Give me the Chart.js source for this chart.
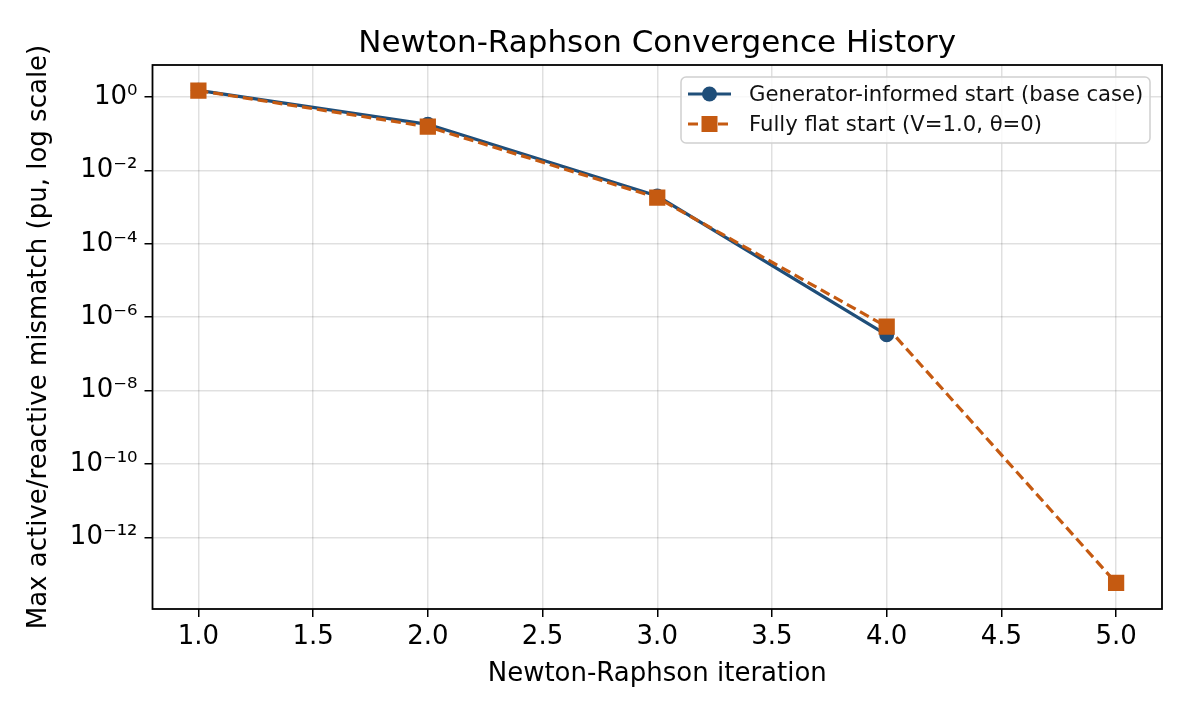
<!DOCTYPE html>
<html>
<head>
<meta charset="utf-8">
<script src="https://cdn.jsdelivr.net/npm/chart.js@4.4.1/dist/chart.umd.min.js"></script>
<style>
  html, body { margin: 0; padding: 0; background: #fff; }
  #wrap { width: 1190px; height: 714px; position: relative; }
</style>
</head>
<body>
<div id="wrap"><canvas id="c" width="1190" height="714"></canvas></div>
<script>
// data
const iterations = [1, 2, 3, 4, 5]
const genInformed = [1.52, 0.18, 2.0e-3, 3.3e-7]
const flatStart = [1.5, 0.155, 1.8e-3, 5.5e-7, 5.7e-14]
const seriesNames = ["Generator-informed start (base case)", "Fully flat start (V=1.0, θ=0)"]
const xTicks = [1.0, 1.5, 2.0, 2.5, 3.0, 3.5, 4.0, 4.5, 5.0]
const yTicks = [1e0, 1e-2, 1e-4, 1e-6, 1e-8, 1e-10, 1e-12]
const yTickLabels = ["10⁰", "10⁻²", "10⁻⁴", "10⁻⁶", "10⁻⁸", "10⁻¹⁰", "10⁻¹²"]

const BLUE = "#1f4e79"
const ORANGE = "#c55a11"
const FONT = "'DejaVu Sans', sans-serif"

const frame = {
  id: "frame",
  afterDatasetsDraw(chart) {
    const { ctx, chartArea: a } = chart
    ctx.save()
    ctx.strokeStyle = "#000"
    ctx.lineWidth = 1.8
    ctx.strokeRect(a.left, a.top, a.right - a.left, a.bottom - a.top)
    ctx.restore()
  }
}

const legendBox = {
  id: "legendBox",
  afterDraw(chart) {
    const ctx = chart.ctx
    const x0 = 681, y0 = 77, w = 469, h = 66
    ctx.save()
    ctx.beginPath()
    ctx.roundRect(x0, y0, w, h, 5)
    ctx.fillStyle = "rgba(255,255,255,0.8)"
    ctx.fill()
    ctx.strokeStyle = "#d0d0d0"
    ctx.lineWidth = 1.5
    ctx.stroke()

    const rows = [
      { y: 94, color: BLUE, dash: [], shape: "circle" },
      { y: 124, color: ORANGE, dash: [10, 5], shape: "square" }
    ]
    rows.forEach((r, i) => {
      ctx.strokeStyle = r.color
      ctx.lineWidth = 3.2
      ctx.setLineDash(r.dash)
      ctx.beginPath()
      ctx.moveTo(688, r.y)
      ctx.lineTo(731, r.y)
      ctx.stroke()
      ctx.setLineDash([])
      ctx.fillStyle = r.color
      if (r.shape === "circle") {
        ctx.beginPath()
        ctx.arc(709.5, r.y, 7.5, 0, Math.PI * 2)
        ctx.fill()
      } else {
        ctx.fillRect(709.5 - 8, r.y - 8, 16, 16)
      }
      ctx.fillStyle = "#111"
      ctx.font = "21.2px " + FONT
      ctx.textBaseline = "middle"
      ctx.textAlign = "left"
      ctx.fillText(seriesNames[i], 749, r.y + 1)
    })
    ctx.restore()
  }
}

new Chart(document.getElementById("c"), {
  type: "line",
  data: {
    labels: iterations,
    datasets: [
      {
        label: seriesNames[0],
        data: genInformed.map((v, i) => ({ x: iterations[i], y: v })),
        borderColor: BLUE,
        backgroundColor: BLUE,
        borderWidth: 3.2,
        pointStyle: "circle",
        pointRadius: 7.5,
        pointBorderWidth: 0,
        order: 1
      },
      {
        label: seriesNames[1],
        data: flatStart.map((v, i) => ({ x: iterations[i], y: v })),
        borderColor: ORANGE,
        backgroundColor: ORANGE,
        borderWidth: 3.2,
        borderDash: [10, 5],
        pointStyle: "rect",
        pointRadius: 11.5,
        pointBorderWidth: 0,
        order: 0
      }
    ]
  },
  options: {
    responsive: false,
    animation: false,
    layout: { padding: { left: 0, right: 28, top: 0, bottom: 0 } },
    plugins: {
      legend: { display: false },
      tooltip: { enabled: false },
      title: {
        display: true,
        fullSize: false,
        text: "Newton-Raphson Convergence History",
        color: "#000",
        font: { family: FONT, size: 31, weight: "normal", lineHeight: 1.2 },
        padding: { top: 25, bottom: 2.8 }
      }
    },
    scales: {
      x: {
        type: "linear",
        min: 0.8,
        max: 5.2,
        afterBuildTicks: s => { s.ticks = xTicks.map(v => ({ value: v })) },
        afterFit: s => { s.height = 105 },
        ticks: {
          color: "#000",
          font: { family: FONT, size: 26 },
          padding: 5,
          maxRotation: 0,
          callback: v => v.toFixed(1)
        },
        grid: { color: "rgba(0,0,0,0.12)", lineWidth: 1.5, tickColor: "#000", tickWidth: 1.5, tickLength: 8 },
        border: { display: false },
        title: {
          display: true,
          text: "Newton-Raphson iteration",
          color: "#000",
          font: { family: FONT, size: 26, lineHeight: 1.2 },
          padding: { top: 0, bottom: 24 }
        }
      },
      y: {
        type: "logarithmic",
        min: 1.11e-14,
        max: 7.46,
        afterBuildTicks: s => { s.ticks = yTicks.map(v => ({ value: v })) },
        afterFit: s => { s.width = 152.5 },
        ticks: {
          color: "#000",
          font: { family: FONT, size: 26 },
          padding: 7,
          callback: (v, i) => yTickLabels[i]
        },
        grid: { color: "rgba(0,0,0,0.12)", lineWidth: 1.5, tickColor: "#000", tickWidth: 1.5, tickLength: 8 },
        border: { display: false },
        title: {
          display: true,
          text: "Max active/reactive mismatch (pu, log scale)",
          color: "#000",
          font: { family: FONT, size: 26, lineHeight: 1.2 },
          padding: { top: 24, bottom: 0 }
        }
      }
    }
  },
  plugins: [frame, legendBox]
})
</script>
</body>
</html>
